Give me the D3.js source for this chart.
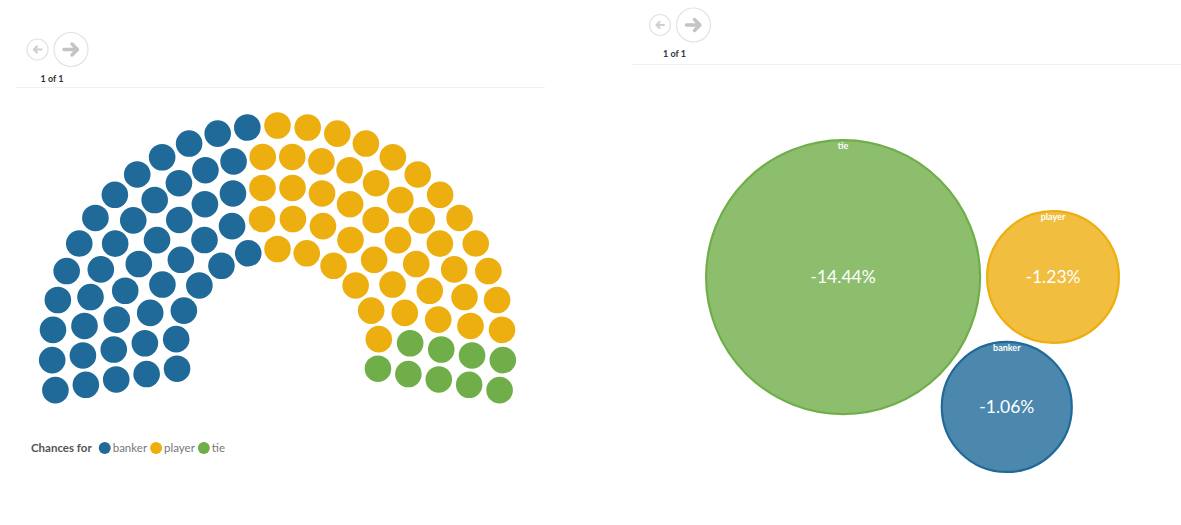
<!DOCTYPE html>
<html>
<head>
<meta charset="utf-8">
<script src="https://cdn.jsdelivr.net/npm/d3@7"></script>
<style>
  body { margin: 0; background: #fff; }
  svg text { font-family: Lato, "Open Sans", sans-serif; }
</style>
</head>
<body>
<svg id="chart" width="1181" height="525"></svg>
<script>
// baccarat outcomes
var outcomes = ["banker", "player", "tie"];
// chance of each outcome, as seats out of 100
var seats = [46, 45, 9];
// house edge of each bet, percent
var houseEdge = [-1.06, -1.23, -14.44];
// order the bubbles get packed in
var bubbleOrder = ["tie", "player", "banker"];
var pageLabel = "1 of 1";
var legendTitle = "Chances for";

var svg = d3.select("#chart");

var color = d3.scaleOrdinal()
    .domain(outcomes)
    .range(["#1f6a98", "#edae0f", "#70ae4a"]);

// plain hyphen for the minus sign, like the original
var pct = function(v) { return v.toFixed(2) + "%"; };

/*
 * page header (the little prev / next buttons + "1 of 1")
 */
function header(x, y, lineY, lineX0, lineX1) {
    var g = svg.append("g").attr("class", "pager");
    // small "back" button
    g.append("circle").attr("cx", x).attr("cy", y).attr("r", 10.5)
        .attr("fill", "none").attr("stroke", "#e3e3e3").attr("stroke-width", 1.2);
    g.append("path")
        .attr("d", "M" + (x + 4) + "," + y + "H" + (x - 3.5) + "M" + (x - 0.5) + "," + (y - 3) + "L" + (x - 3.5) + "," + y + "L" + (x - 0.5) + "," + (y + 3))
        .attr("fill", "none").attr("stroke", "#cfcfcf").attr("stroke-width", 2.2)
        .attr("stroke-linecap", "round").attr("stroke-linejoin", "round");
    // bigger "next" button
    var nx = x + 33.5;
    g.append("circle").attr("cx", nx).attr("cy", y).attr("r", 17)
        .attr("fill", "none").attr("stroke", "#e3e3e3").attr("stroke-width", 1.2);
    g.append("path")
        .attr("d", "M" + (nx - 7) + "," + y + "H" + (nx + 6) + "M" + (nx + 1) + "," + (y - 5.5) + "L" + (nx + 6.5) + "," + y + "L" + (nx + 1) + "," + (y + 5.5))
        .attr("fill", "none").attr("stroke", "#c4c4c4").attr("stroke-width", 3.4)
        .attr("stroke-linecap", "round").attr("stroke-linejoin", "round");
    g.append("text")
        .attr("x", x + 3).attr("y", y + 32)
        .attr("font-size", 9).attr("font-weight", "bold").attr("fill", "#333")
        .text(pageLabel);
    g.append("line")
        .attr("x1", lineX0).attr("x2", lineX1).attr("y1", lineY).attr("y2", lineY)
        .attr("stroke", "#f0f0f0").attr("stroke-width", 1);
}

header(37.5, 49.5, 87.5, 16, 545);
header(660, 25, 64.5, 632, 1181);

/*
 * left: parliament style chart, 100 seats in 5 arcs
 */
var hemi = {cx: 277.5, cy: 351, r0: 102, r1: 225.5, rows: 5, spacing: 30, dot: 13.3},
    startA = 190 * Math.PI / 180,
    endA = -10 * Math.PI / 180;

var rowScale = d3.scaleLinear().domain([0, hemi.rows - 1]).range([hemi.r0, hemi.r1]);

var spots = [];
d3.range(hemi.rows).forEach(function(i) {
    var r = rowScale(i),
        n = Math.round(r * (startA - endA) / hemi.spacing) + 1,
        angle = d3.scaleLinear().domain([0, n - 1]).range([startA, endA]);
    d3.range(n).forEach(function(k) {
        spots.push({row: i, r: r, a: angle(k)});
    });
});
// fill seats left to right by angle
spots.sort(function(p, q) { return d3.descending(p.a, q.a) || d3.ascending(p.row, q.row); });

var seatList = [];
outcomes.forEach(function(o, i) {
    d3.range(seats[i]).forEach(function() { seatList.push(o); });
});
spots.forEach(function(s, j) { s.outcome = seatList[j]; });

svg.append("g").attr("class", "seats")
  .selectAll("circle")
    .data(spots)
  .enter().append("circle")
    .attr("cx", function(d) { return hemi.cx + d.r * Math.cos(d.a); })
    .attr("cy", function(d) { return hemi.cy - d.r * Math.sin(d.a); })
    .attr("r", hemi.dot)
    .attr("fill", function(d) { return color(d.outcome); });

// legend
var legend = svg.append("g").attr("class", "legend").attr("transform", "translate(31,452)");
var lt = legend.append("text")
    .attr("font-size", 11.5).attr("font-weight", "bold").attr("fill", "#555")
    .text(legendTitle);
var lx = lt.node().getComputedTextLength() + 7;
outcomes.forEach(function(o) {
    legend.append("circle").attr("cx", lx + 6).attr("cy", -4).attr("r", 6).attr("fill", color(o));
    var t = legend.append("text")
        .attr("x", lx + 14).attr("font-size", 11.5).attr("fill", "#777")
        .text(o);
    lx += 14 + t.node().getComputedTextLength() + 3;
});

/*
 * right: packed bubbles sized by house edge
 */
var pad = 2.5;
var sizeScale = d3.scaleLinear()
    .domain(d3.extent(houseEdge, function(v) { return Math.abs(v); }))
    .range([66, 138]);

var bubbles = bubbleOrder.map(function(o) {
    var i = outcomes.indexOf(o);
    return {name: o, value: houseEdge[i], size: sizeScale(Math.abs(houseEdge[i])), r: sizeScale(Math.abs(houseEdge[i])) + pad};
});
d3.packSiblings(bubbles);

var bx0 = d3.min(bubbles, function(d) { return d.x - d.size; }),
    bx1 = d3.max(bubbles, function(d) { return d.x + d.size; }),
    by0 = d3.min(bubbles, function(d) { return d.y - d.size; }),
    by1 = d3.max(bubbles, function(d) { return d.y + d.size; });
var ox = 912.5 - (bx0 + bx1) / 2,
    oy = 306 - (by0 + by1) / 2;

var bubble = svg.append("g").attr("class", "bubbles")
    .attr("transform", "translate(" + ox + "," + oy + ")")
  .selectAll("g")
    .data(bubbles)
  .enter().append("g")
    .attr("transform", function(d) { return "translate(" + d.x + "," + d.y + ")"; });

bubble.append("circle")
    .attr("r", function(d) { return d.size - 1; })
    .attr("fill", function(d) { return color(d.name); })
    .attr("fill-opacity", 0.8)
    .attr("stroke", function(d) { return color(d.name); })
    .attr("stroke-width", 2.2);

bubble.append("text")
    .attr("y", function(d) { return -d.size + 10; })
    .attr("text-anchor", "middle")
    .attr("font-size", 9).attr("font-weight", "bold").attr("fill", "#fff")
    .text(function(d) { return d.name; });

bubble.append("text")
    .attr("dy", "0.36em")
    .attr("text-anchor", "middle")
    .attr("font-family", "'Open Sans', sans-serif")
    .attr("font-size", 17.5).attr("fill", "#fff")
    .text(function(d) { return pct(d.value); });
</script>
</body>
</html>
